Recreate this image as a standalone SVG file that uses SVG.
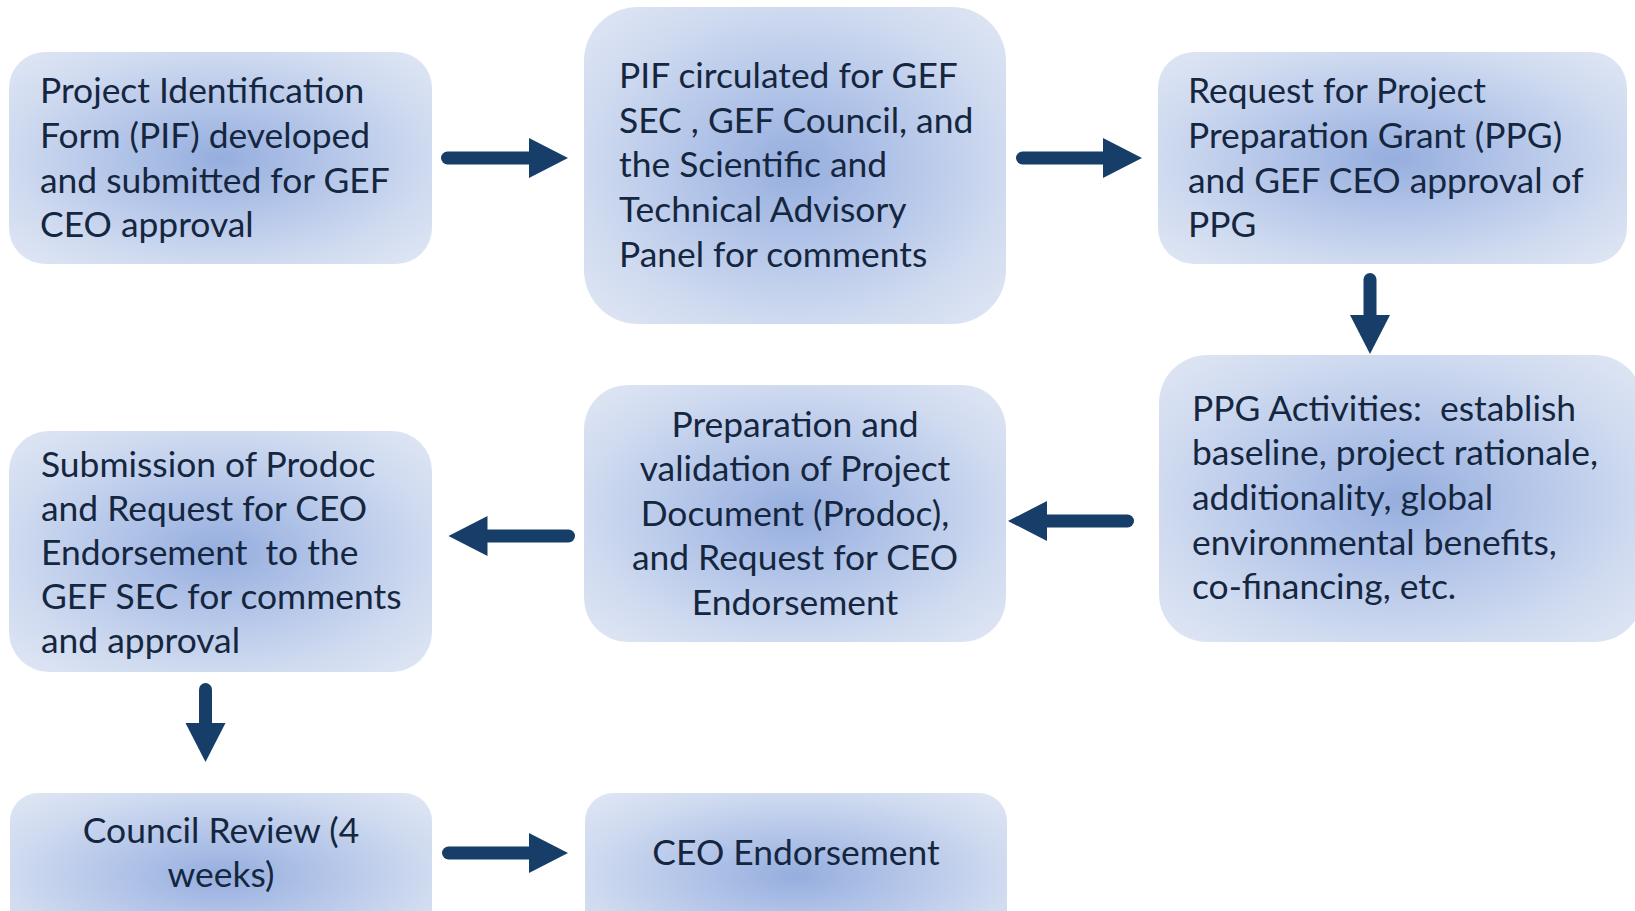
<svg xmlns="http://www.w3.org/2000/svg" width="1635" height="911" viewBox="0 0 1635 911">
<style>
.box{fill:url(#g)}
.t{font-family:Lato,"Open Sans","Liberation Sans",sans-serif;font-size:35.4px;fill:#15263f}
.c{text-anchor:middle}
.con line{stroke:#163e69;stroke-width:13;stroke-linecap:round;marker-end:url(#ah)}
</style>
<defs>
<radialGradient id="g" cx="0.5" cy="0.5" r="0.7">
<stop offset="0" stop-color="#96aede"/>
<stop offset="0.35" stop-color="#b2c4e8"/>
<stop offset="0.72" stop-color="#d0dbf0"/>
<stop offset="1" stop-color="#e0e7f4"/>
</radialGradient>
<marker id="ah" markerUnits="userSpaceOnUse" markerWidth="40" markerHeight="40" refX="0" refY="20" orient="auto" overflow="visible">
<path d="M0,0 L39,20 L0,40 Z" fill="#163e69"/>
</marker>
</defs>
<rect width="1635" height="911" fill="#ffffff"/>

<g id="n1">
<rect class="box" x="9" y="52" width="423" height="212" rx="36"/>
<text class="t"><tspan x="40" y="103">Project Identification</tspan><tspan x="40" y="148">Form (PIF) developed</tspan><tspan x="40" y="193">and submitted for GEF</tspan><tspan x="40" y="237">CEO approval</tspan></text>
</g>

<g id="n2">
<rect class="box" x="584" y="7" width="422" height="317" rx="54"/>
<text class="t"><tspan x="619" y="88">PIF circulated for GEF</tspan><tspan x="619" y="133">SEC , GEF Council, and</tspan><tspan x="619" y="177">the Scientific and</tspan><tspan x="619" y="222">Technical Advisory</tspan><tspan x="619" y="267">Panel for comments</tspan></text>
</g>

<g id="n3">
<rect class="box" x="1158" y="52" width="469" height="212" rx="36"/>
<text class="t"><tspan x="1188" y="103">Request for Project</tspan><tspan x="1188" y="148">Preparation Grant (PPG)</tspan><tspan x="1188" y="193">and GEF CEO approval of</tspan><tspan x="1188" y="237">PPG</tspan></text>
</g>

<g id="n4">
<rect class="box" x="1159" y="355" width="484" height="287" rx="48"/>
<text class="t" xml:space="preserve"><tspan x="1192" y="421">PPG Activities:  establish</tspan><tspan x="1192" y="465">baseline, project rationale,</tspan><tspan x="1192" y="510">additionality, global</tspan><tspan x="1192" y="555">environmental benefits,</tspan><tspan x="1192" y="599">co-financing, etc.</tspan></text>
</g>

<g id="n5">
<rect class="box" x="584" y="385" width="422" height="257" rx="44"/>
<text class="t c"><tspan x="795" y="437">Preparation and</tspan><tspan x="795" y="481">validation of Project</tspan><tspan x="795" y="526">Document (Prodoc),</tspan><tspan x="795" y="570">and Request for CEO</tspan><tspan x="795" y="615">Endorsement</tspan></text>
</g>

<g id="n6">
<rect class="box" x="9" y="431" width="423" height="241" rx="40"/>
<text class="t" xml:space="preserve"><tspan x="41" y="477">Submission of Prodoc</tspan><tspan x="41" y="521">and Request for CEO</tspan><tspan x="41" y="565">Endorsement  to the</tspan><tspan x="41" y="609">GEF SEC for comments</tspan><tspan x="41" y="653">and approval</tspan></text>
</g>

<g id="n7">
<rect class="box" x="10" y="793" width="422" height="165" rx="28"/>
<text class="t c"><tspan x="221" y="843">Council Review (4</tspan><tspan x="221" y="887">weeks)</tspan></text>
</g>

<g id="n8">
<rect class="box" x="585" y="793" width="422" height="165" rx="28"/>
<text class="t c"><tspan x="796" y="865">CEO Endorsement</tspan></text>
</g>

<g id="connectors" class="con">
<line x1="447.5" y1="158" x2="529" y2="158"/>
<line x1="1022.5" y1="158" x2="1103" y2="158"/>
<line x1="1370" y1="279.5" x2="1370" y2="315"/>
<line x1="1127.5" y1="521" x2="1047" y2="521"/>
<line x1="568.5" y1="536" x2="487.5" y2="536"/>
<line x1="205.5" y1="689.5" x2="205.5" y2="723"/>
<line x1="448.5" y1="853" x2="529" y2="853"/>
</g>
</svg>
